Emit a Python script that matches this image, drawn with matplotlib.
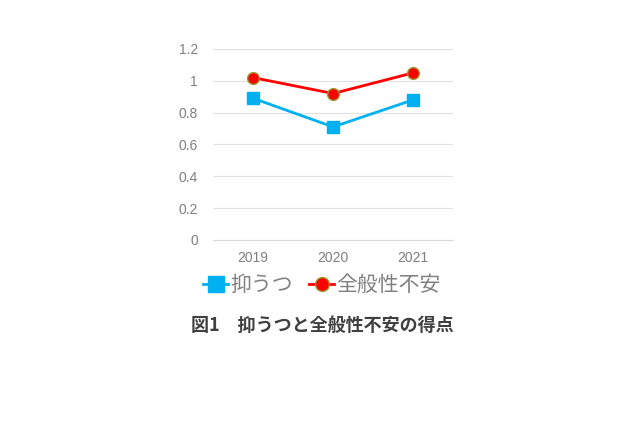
import matplotlib.pyplot as plt
from matplotlib.lines import Line2D

plt.rcParams['font.family'] = ['Liberation Sans', 'Noto Sans CJK JP', 'DejaVu Sans']

years = ['2019', '2020', '2021']
depression = [0.89, 0.71, 0.88]
anxiety = [1.02, 0.92, 1.05]
yticks = [0, 0.2, 0.4, 0.6, 0.8, 1, 1.2]
ytick_labels = ['0', '0.2', '0.4', '0.6', '0.8', '1', '1.2']
series_names = ['抑うつ', '全般性不安']
caption = '図1\u3000抑うつと全般性不安の得点'

blue = '#00B0F0'
red = '#FF0000'
gray = '#808080'

fig = plt.figure(figsize=(6.4, 4.26), dpi=100)
ax = fig.add_axes([0.333, 0.437, 0.375, 0.448])

x = range(len(years))
ax.plot(x, depression, color=blue, lw=2, marker='s', ms=9,
        mfc=blue, mec=blue, label=series_names[0])
ax.plot(x, anxiety, color=red, lw=2, marker='o', ms=8.5,
        mfc=red, mec='#9a9a30', mew=1, label=series_names[1])

ax.set_xlim(-0.5, 2.5)
ax.set_ylim(0, 1.2)
ax.set_yticks(yticks)
ax.set_yticklabels(ytick_labels)
ax.set_xticks(list(x))
ax.set_xticklabels(years)
ax.yaxis.grid(True, color='#e0e0e0', lw=0.8)
ax.set_axisbelow(True)
for s in ['top', 'right', 'left']:
    ax.spines[s].set_visible(False)
ax.spines['bottom'].set_color('#d9d9d9')
ax.tick_params(axis='both', length=0, colors=gray, labelsize=10)
ax.tick_params(axis='y', pad=11)
ax.tick_params(axis='x', pad=8)

handles = [
    Line2D([], [], color=blue, lw=2, marker='s', ms=11, mfc=blue, mec=blue),
    Line2D([], [], color=red, lw=2, marker='o', ms=10, mfc=red, mec='#9a9a30'),
]
leg = fig.legend(handles, series_names, loc='center', bbox_to_anchor=(0.503, 0.331),
                 ncol=2, frameon=False, handlelength=1.2,
                 handletextpad=0.1, columnspacing=0.8,
                 prop={'family': ['Noto Sans CJK JP'], 'size': 15})
for t in leg.get_texts():
    t.set_color(gray)

fig.text(0.503, 0.235, caption, ha='center', va='center', fontsize=13,
         color='#404040', fontweight='bold', family=['Noto Sans CJK JP', 'DejaVu Sans'])

fig.savefig('out.png', dpi=100)
